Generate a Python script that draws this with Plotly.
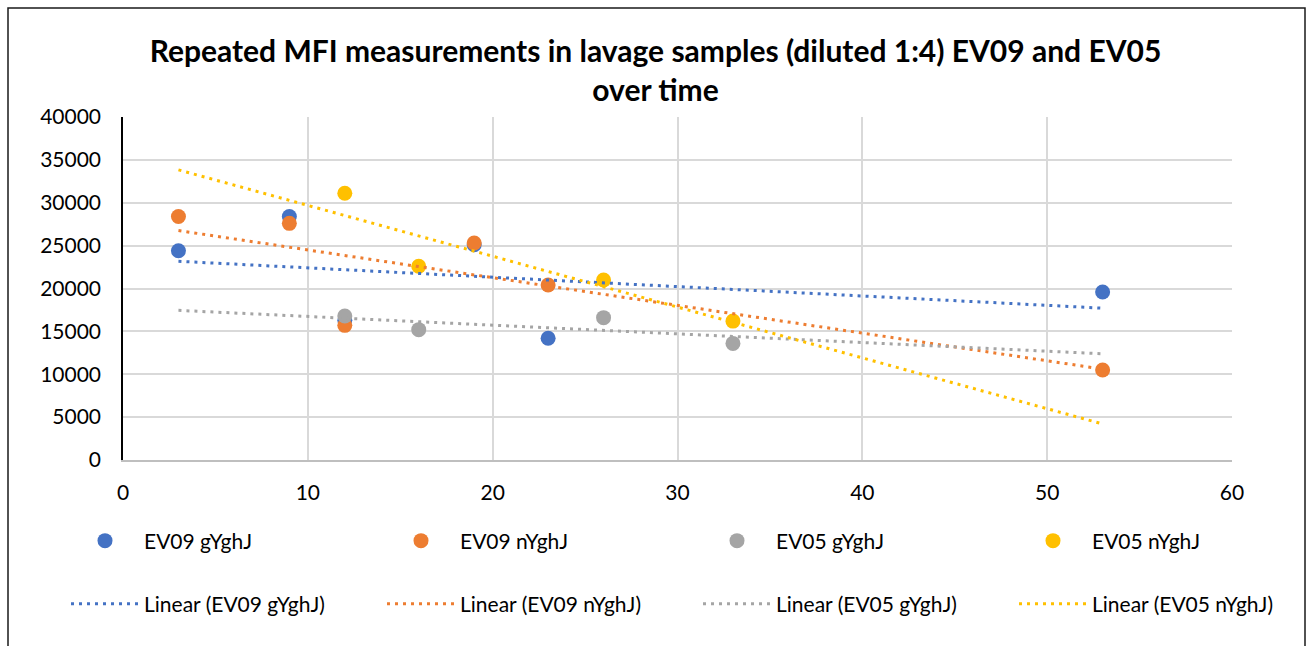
import numpy as np
import plotly.graph_objects as go

# Sampling day and MFI reading for each group
ev09_g_days = [3, 9, 12, 19, 23, 53]
ev09_g_mfi = [24400, 28400, 16300, 25100, 14200, 19600]
ev09_n_days = [3, 9, 12, 19, 23, 53]
ev09_n_mfi = [28400, 27600, 15700, 25300, 20400, 10500]
ev05_g_days = [12, 16, 26, 33]
ev05_g_mfi = [16800, 15200, 16600, 13600]
ev05_n_days = [12, 16, 26, 33]
ev05_n_mfi = [31100, 22600, 21000, 16200]

series_names = ["EV09 gYghJ", "EV09 nYghJ", "EV05 gYghJ", "EV05 nYghJ"]
series_colors = ["#4472C4", "#ED7D31", "#A5A5A5", "#FFC000"]
series_days = [ev09_g_days, ev09_n_days, ev05_g_days, ev05_n_days]
series_mfi = [ev09_g_mfi, ev09_n_mfi, ev05_g_mfi, ev05_n_mfi]

x_ticks = [0, 10, 20, 30, 40, 50, 60]
y_ticks = [0, 5000, 10000, 15000, 20000, 25000, 30000, 35000, 40000]

FONT = "Lato, Calibri, Carlito, sans-serif"
W, H = 1311, 646
ML, MR, MT, MB = 123, 79, 117, 186
PW = W - ML - MR
PH = H - MT - MB

# legend entry widths: the last entry of each row is kept narrow so a row fits
ENTRY_W = [233, 233, 233, 180]

fig = go.Figure()

# Scatter markers
for i, (name, col, xs, ys) in enumerate(zip(series_names, series_colors, series_days, series_mfi)):
    fig.add_trace(go.Scatter(
        x=xs, y=ys, mode="markers", name=name,
        marker=dict(size=15, color=col),
        legend="legend", legendwidth=ENTRY_W[i],
    ))

# Least-squares trendlines across the full sampling span
all_days = [d for ds in series_days for d in ds]
span = np.array([min(all_days), max(all_days)], dtype=float)
for i, (name, col, xs, ys) in enumerate(zip(series_names, series_colors, series_days, series_mfi)):
    slope, intercept = np.polyfit(xs, ys, 1)
    fig.add_trace(go.Scatter(
        x=span, y=slope * span + intercept, mode="lines",
        name=f"Linear ({name})",
        line=dict(color=col, width=3, dash="3px,5px"),
        legend="legend2", legendwidth=ENTRY_W[i],
    ))

# Outer chart border
fig.add_shape(
    type="rect", xref="paper", yref="paper",
    x0=(8 - ML) / PW, x1=(1305 - ML) / PW,
    y0=(H - MB - 660) / PH, y1=(H - MB - 8) / PH,
    line=dict(color="#1a1a1a", width=1.5), fillcolor="rgba(0,0,0,0)", layer="below",
)

legend_common = dict(
    orientation="h", xref="paper", yref="paper",
    xanchor="left", yanchor="middle", x=(66 - ML) / PW,
    font=dict(family=FONT, size=21, color="#000000"),
    itemwidth=68, entrywidthmode="pixels", entrywidth=233,
    bgcolor="rgba(0,0,0,0)", itemclick=False, itemdoubleclick=False,
)

fig.update_layout(
    width=W, height=H,
    margin=dict(l=ML, r=MR, t=MT, b=MB, autoexpand=False),
    paper_bgcolor="white", plot_bgcolor="white",
    font=dict(family=FONT, size=21, color="#000000"),
    title=dict(
        text="<b>Repeated MFI measurements in lavage samples (diluted 1:4) EV09 and EV05<br>over time</b>",
        x=0.5, xref="container", xanchor="center",
        y=1 - 62 / H, yref="container", yanchor="top",
        font=dict(family=FONT, size=30, color="#000000"),
    ),
    xaxis=dict(
        range=[0, 60], tickvals=x_ticks, ticktext=[str(v) for v in x_ticks],
        showgrid=True, gridcolor="#d9d9d9", gridwidth=1.5,
        showline=True, linecolor="#bfbfbf", linewidth=1.5,
        zeroline=False, ticks="", ticklabelstandoff=13,
        tickfont=dict(family=FONT, size=21, color="#000000"),
    ),
    yaxis=dict(
        range=[0, 40000], tickvals=y_ticks, ticktext=[str(v) for v in y_ticks],
        showgrid=True, gridcolor="#d9d9d9", gridwidth=1.5,
        showline=True, linecolor="#000000", linewidth=1.5,
        zeroline=False, ticks="", ticklabelstandoff=16,
        tickfont=dict(family=FONT, size=21, color="#000000"),
    ),
    legend=dict(legend_common, y=(H - MB - 541) / PH),
    legend2=dict(legend_common, y=(H - MB - 604) / PH),
    showlegend=True,
)

fig.write_html("out.html")
